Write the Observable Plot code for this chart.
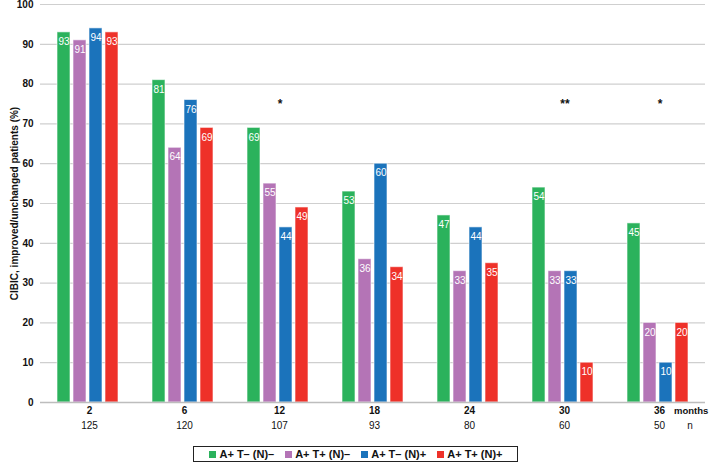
<!DOCTYPE html>
<html>
<head>
<meta charset="utf-8">
<script src="https://cdn.jsdelivr.net/npm/d3@7"></script>
<script src="https://cdn.jsdelivr.net/npm/@observablehq/plot@0.6"></script>
<style>
  body { margin: 0; background: white; font-family: "Liberation Sans", Arial, sans-serif; }
  #chart { width: 709px; }
  .legend { display: flex; justify-content: center; margin-top: 9px; padding-left: 2px; }
  .legend .box { display: inline-flex; align-items: center; border: 1px solid #222; padding: 0 14px 0 15px; height: 14px; gap: 11px; font-weight: bold; font-size: 11px; color: #111; }
  .legend .item { display: inline-flex; align-items: center; gap: 3px; }
  .legend .sw { width: 7px; height: 7px; display: inline-block; }
</style>
</head>
<body>
<div id="chart"></div>
<script>
const months = [2, 6, 12, 18, 24, 30, 36];
const nCounts = [125, 120, 107, 93, 80, 60, 50];
const series = ["A+ T– (N)–", "A+ T+ (N)–", "A+ T– (N)+", "A+ T+ (N)+"];
const colors = ["#2bb25c", "#b474b6", "#1b73bb", "#ee3129"];
const vGreen  = [93, 81, 69, 53, 47, 54, 45];
const vPurple = [91, 64, 55, 36, 33, 33, 20];
const vBlue   = [94, 76, 44, 60, 44, 33, 10];
const vRed    = [93, 69, 49, 34, 35, 10, 20];
const stars = [{month: 12, s: "*"}, {month: 30, s: "**"}, {month: 36, s: "*"}];
const starLevel = 75;
const yLabel = "CIBIC, improved/unchanged patients (%)";

const valuesBySeries = [vGreen, vPurple, vBlue, vRed];
const data = [];
months.forEach((m, i) => {
  series.forEach((s, j) => data.push({month: m, series: s, value: valuesBySeries[j][i]}));
});
const monthRows = months.map((m, i) => ({month: m, n: nCounts[i]}));

const chart = Plot.plot({
  width: 709,
  height: 437,
  marginLeft: 38,
  marginRight: 3,
  marginTop: 4,
  marginBottom: 35,
  style: {fontFamily: "'Liberation Sans', Arial, sans-serif", fontWeight: "bold", fontSize: "10px", color: "#111"},
  fx: {domain: months, paddingInner: 0, paddingOuter: 0, axis: null},
  x: {domain: series, paddingInner: 0.18, paddingOuter: 0.9, axis: null},
  y: {domain: [0, 100], ticks: d3.range(0, 101, 10)},
  color: {domain: series, range: colors},
  marks: [
    Plot.gridY(d3.range(10, 101, 10), {stroke: "#cfcfcf", strokeOpacity: 1, strokeWidth: 1.2}),
    Plot.barY(data, {fx: "month", x: "series", y: "value", fill: "series", stroke: "white", strokeOpacity: 0.6, strokeWidth: 1}),
    Plot.ruleY([0], {stroke: "#bdbdbd", strokeWidth: 1.5}),
    Plot.text(data, {fx: "month", x: "series", y: "value", text: d => String(d.value), dy: 9.5, fill: "white", fontSize: 10, fontWeight: "normal"}),
    Plot.text(stars, {fx: "month", y: () => starLevel, text: "s", dx: 2, fontSize: 12, fontWeight: "bold"}),
    Plot.text(monthRows, {fx: "month", text: d => String(d.month), frameAnchor: "bottom", dy: 11, dx: 1.5, fontSize: 10, fontWeight: "bold"}),
    Plot.text(monthRows, {fx: "month", text: d => String(d.n), frameAnchor: "bottom", dy: 26, dx: 1.5, fontSize: 10, fontWeight: "normal"}),
    Plot.text([{month: 36}], {fx: "month", text: () => "months", frameAnchor: "bottom", dy: 11, dx: 16, textAnchor: "start", fontSize: 9.5, fontWeight: "bold"}),
    Plot.text([{month: 36}], {fx: "month", text: () => "n", frameAnchor: "bottom", dy: 26, dx: 32, fontSize: 10, fontWeight: "normal"}),
    Plot.text([{month: 2}], {fx: "month", text: () => yLabel, frameAnchor: "left", dx: -26, rotate: -90, textAnchor: "middle", fontSize: 10, fontWeight: "bold"}),
    Plot.axisY(d3.range(0, 101, 10), {tickSize: 0, tickPadding: 7, fontSize: 10, fontWeight: "bold", label: null})
  ]
});
document.getElementById("chart").appendChild(chart);

const legend = document.createElement("div");
legend.className = "legend";
const box = document.createElement("div");
box.className = "box";
series.forEach((s, i) => {
  const it = document.createElement("span");
  it.className = "item";
  const sw = document.createElement("span");
  sw.className = "sw";
  sw.style.background = colors[i];
  it.appendChild(sw);
  it.appendChild(document.createTextNode(s));
  box.appendChild(it);
});
legend.appendChild(box);
document.getElementById("chart").appendChild(legend);
</script>
</body>
</html>
